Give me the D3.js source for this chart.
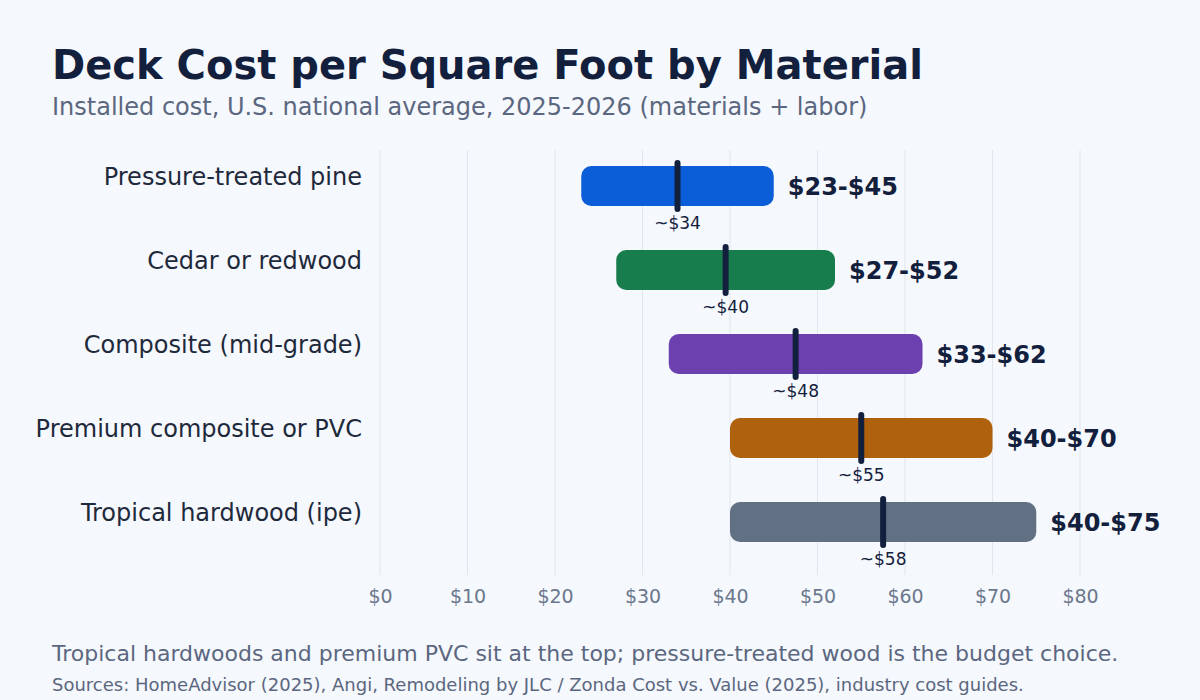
<!DOCTYPE html>
<html><head><meta charset="utf-8">
<script src="https://cdn.jsdelivr.net/npm/d3@7"></script>
<style>body{margin:0;background:#f5f8fc;}svg{display:block;font-family:"DejaVu Sans",sans-serif;}</style>
</head><body>
<svg id="chart" width="1200" height="700"></svg>
<script>
var materials = ['Pressure-treated pine', 'Cedar or redwood', 'Composite (mid-grade)', 'Premium composite or PVC', 'Tropical hardwood (ipe)'];
var lows = [23, 27, 33, 40, 40];
var highs = [45, 52, 62, 70, 75];
var typical = [34, 39.5, 47.5, 55, 57.5];
var typicalLabels = ['~$34', '~$40', '~$48', '~$55', '~$58'];
var colors = ['#0b5ed7', '#177d4c', '#6d40b0', '#b0610e', '#627083'];
var ticks = [0, 10, 20, 30, 40, 50, 60, 70, 80];

var svg = d3.select('#chart');
svg.append('rect').attr('width', 1200).attr('height', 700).attr('fill', '#f5f8fc');

var x = d3.scaleLinear().domain([0, 80]).range([380, 1080]);
var y = d3.scalePoint().domain(materials).range([186, 522]);
var barH = 40;

// grid
svg.selectAll('.grid').data(ticks).enter().append('line')
    .attr('x1', function (d) { return x(d); }).attr('x2', function (d) { return x(d); })
    .attr('y1', 150).attr('y2', 575)
    .attr('stroke', '#e2e6ec').attr('stroke-width', 1);

var axis = d3.axisBottom(x).tickValues(ticks).tickFormat(function (d) { return '$' + d; }).tickSize(0).tickPadding(0);
var ag = svg.append('g').attr('transform', 'translate(0,589)').call(axis);
ag.select('.domain').remove();
ag.selectAll('text').attr('font-size', 19).attr('fill', '#6b778c').attr('font-family', '"DejaVu Sans",sans-serif');

var rows = svg.selectAll('.row').data(materials).enter().append('g');

rows.append('text')
    .attr('x', 362).attr('y', function (d) { return y(d) - 1; })
    .attr('text-anchor', 'end').attr('font-size', 24).attr('fill', '#1e293b')
    .text(function (d) { return d; });

rows.append('rect')
    .attr('x', function (d, i) { return x(lows[i]); })
    .attr('y', function (d) { return y(d) - barH / 2; })
    .attr('width', function (d, i) { return x(highs[i]) - x(lows[i]); })
    .attr('height', barH)
    .attr('rx', 10)
    .attr('fill', function (d, i) { return colors[i]; });

rows.append('line')
    .attr('x1', function (d, i) { return x(typical[i]); })
    .attr('x2', function (d, i) { return x(typical[i]); })
    .attr('y1', function (d) { return y(d) - barH / 2 - 3; })
    .attr('y2', function (d) { return y(d) + barH / 2 + 3; })
    .attr('stroke', '#13203d').attr('stroke-width', 6).attr('stroke-linecap', 'round');

rows.append('text')
    .attr('x', function (d, i) { return x(typical[i]); })
    .attr('y', function (d) { return y(d) + barH / 2 + 23; })
    .attr('text-anchor', 'middle').attr('font-size', 17).attr('fill', '#13203d')
    .text(function (d, i) { return typicalLabels[i]; });

rows.append('text')
    .attr('x', function (d, i) { return x(highs[i]) + 14; })
    .attr('y', function (d) { return y(d) + 9; })
    .attr('font-size', 24).attr('font-weight', 'bold').attr('fill', '#13203d')
    .text(function (d, i) { return '$' + lows[i] + '-$' + highs[i]; });

svg.append('text').attr('x', 52).attr('y', 79).attr('font-size', 40).attr('font-weight', 'bold')
    .attr('fill', '#13203d').text('Deck Cost per Square Foot by Material');
svg.append('text').attr('x', 52).attr('y', 115).attr('font-size', 24).attr('fill', '#5b6780')
    .text('Installed cost, U.S. national average, 2025-2026 (materials + labor)');
svg.append('text').attr('x', 52).attr('y', 661).attr('font-size', 22).attr('fill', '#5b6780')
    .text('Tropical hardwoods and premium PVC sit at the top; pressure-treated wood is the budget choice.');
svg.append('text').attr('x', 52).attr('y', 691).attr('font-size', 18).attr('fill', '#5b6780')
    .text('Sources: HomeAdvisor (2025), Angi, Remodeling by JLC / Zonda Cost vs. Value (2025), industry cost guides.');
</script>
</body></html>
